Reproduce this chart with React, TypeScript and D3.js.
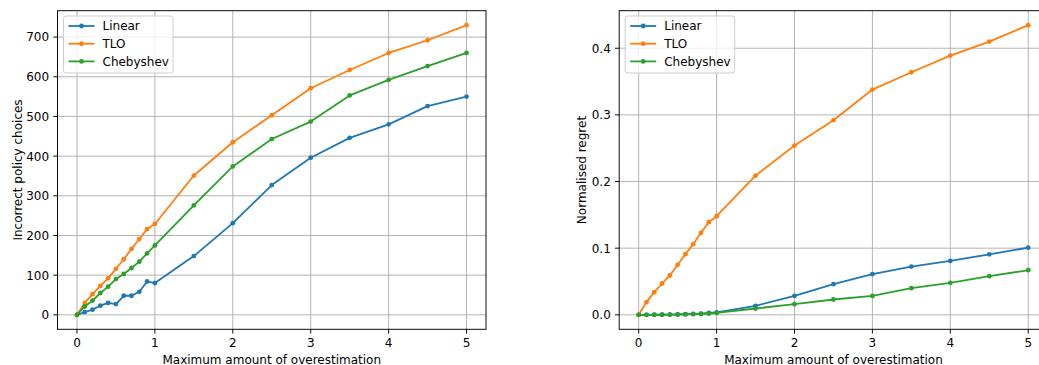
import * as d3 from "d3";

// ── Data ──────────────────────────────────────────────────────────────────────

const overestimation = [0, 0.1, 0.2, 0.3, 0.4, 0.5, 0.6, 0.7, 0.8, 0.9, 1.0, 1.5, 2, 2.5, 3, 3.5, 4, 4.5, 5];

const linearChoices = [0, 7, 13, 23, 30, 27, 48, 48, 58, 84, 80, 148, 231, 327, 396, 446, 480, 526, 550];
const tloChoices = [0, 30, 52, 73, 92, 116, 140, 166, 191, 216, 229, 351, 435, 503, 571, 617, 660, 692, 730];
const chebChoices = [0, 21, 36, 55, 71, 90, 103, 118, 134, 155, 175, 276, 374, 443, 487, 553, 592, 627, 660];

const linearRegret = [0, 0, 0.0001, 0.0002, 0.0004, 0.0006, 0.0009, 0.0013, 0.0019, 0.0027, 0.0038, 0.0135, 0.0284, 0.046, 0.061, 0.0724, 0.0808, 0.0908, 0.1008];
const tloRegret = [0, 0.019, 0.034, 0.047, 0.059, 0.075, 0.091, 0.106, 0.123, 0.139, 0.148, 0.209, 0.254, 0.292, 0.338, 0.364, 0.389, 0.41, 0.4346];
const chebRegret = [0, 0, 0, 0.0001, 0.0002, 0.0004, 0.0006, 0.0009, 0.0014, 0.002, 0.0028, 0.0095, 0.016, 0.023, 0.0284, 0.04, 0.048, 0.058, 0.067];

const seriesNames = ["Linear", "TLO", "Chebyshev"];
const seriesColors = ["#1f77b4", "#ff7f0e", "#2ca02c"];

const xTicks = [0, 1, 2, 3, 4, 5];
const choiceTicks = [0, 100, 200, 300, 400, 500, 600, 700];
const regretTicks = [0, 0.1, 0.2, 0.3, 0.4];

// ── Layout ────────────────────────────────────────────────────────────────────

const W = 1039;
const H = 365;
const FONT = "'DejaVu Sans', sans-serif";
const FS = 12;
const LW = 1.8;
const THIN = 0.96;
const TICK = 4.2;
const TOP = 10.7;
const BOTTOM = 329.3;
const AXIS_W = 428.5;

// matplotlib-style 5% margin
function padded([lo, hi]: [number, number]): [number, number] {
  const m = (hi - lo) * 0.05;
  return [lo - m, hi + m];
}

interface PanelProps {
  left: number;
  series: number[][];
  yTicks: number[];
  yFormat: (v: number) => string;
  yLabel: string;
  yLabelX: number;
}

function Panel({ left, series, yTicks, yFormat, yLabel, yLabelX }: PanelProps) {
  const right = left + AXIS_W;
  const x = d3
    .scaleLinear()
    .domain(padded(d3.extent(overestimation) as [number, number]))
    .range([left, right]);
  const all = series.flat();
  const y = d3
    .scaleLinear()
    .domain(padded([d3.min(all) as number, d3.max(all) as number]))
    .range([BOTTOM, TOP]);

  const line = d3
    .line<number>()
    .x((_d, i) => x(overestimation[i]))
    .y((d) => y(d));

  const clipId = `clip-${Math.round(left)}`;

  return (
    <g>
      <defs>
        <clipPath id={clipId}>
          <rect x={left} y={TOP} width={AXIS_W} height={BOTTOM - TOP} />
        </clipPath>
      </defs>

      {/* grid */}
      <g stroke="#b0b0b0" strokeWidth={THIN}>
        {xTicks.map((t) => (
          <line key={`gx${t}`} x1={x(t)} x2={x(t)} y1={TOP} y2={BOTTOM} />
        ))}
        {yTicks.map((t) => (
          <line key={`gy${t}`} x1={left} x2={right} y1={y(t)} y2={y(t)} />
        ))}
      </g>

      {/* series */}
      <g clipPath={`url(#${clipId})`}>
        {series.map((s, i) => (
          <g key={seriesNames[i]}>
            <path d={line(s) ?? ""} fill="none" stroke={seriesColors[i]} strokeWidth={LW} strokeLinejoin="round" strokeLinecap="square" />
            {s.map((v, j) => (
              <circle key={j} cx={x(overestimation[j])} cy={y(v)} r={2.4} fill={seriesColors[i]} />
            ))}
          </g>
        ))}
      </g>

      {/* frame */}
      <rect x={left} y={TOP} width={AXIS_W} height={BOTTOM - TOP} fill="none" stroke="#000" strokeWidth={THIN} />

      {/* x ticks */}
      {xTicks.map((t) => (
        <g key={`tx${t}`}>
          <line x1={x(t)} x2={x(t)} y1={BOTTOM} y2={BOTTOM + TICK} stroke="#000" strokeWidth={THIN} />
          <text x={x(t)} y={BOTTOM + 17.5} textAnchor="middle" fontFamily={FONT} fontSize={FS} fill="#000">
            {t}
          </text>
        </g>
      ))}

      {/* y ticks */}
      {yTicks.map((t) => (
        <g key={`ty${t}`}>
          <line x1={left - TICK} x2={left} y1={y(t)} y2={y(t)} stroke="#000" strokeWidth={THIN} />
          <text x={left - 2 * TICK} y={y(t) + 4.4} textAnchor="end" fontFamily={FONT} fontSize={FS} fill="#000">
            {yFormat(t)}
          </text>
        </g>
      ))}

      <text x={(left + right) / 2} y={363.5} textAnchor="middle" fontFamily={FONT} fontSize={FS} fill="#000">
        Maximum amount of overestimation
      </text>
      <text
        transform={`translate(${yLabelX}, ${(TOP + BOTTOM) / 2}) rotate(-90)`}
        textAnchor="middle"
        fontFamily={FONT}
        fontSize={FS}
        fill="#000"
      >
        {yLabel}
      </text>

      {/* legend */}
      <g transform={`translate(${left + 6}, 16)`}>
        <rect x={0} y={0} width={109.5} height={57} rx={2.5} fill="#fff" fillOpacity={0.8} stroke="#cccccc" strokeWidth={THIN} />
        {seriesNames.map((name, i) => (
          <g key={name} transform={`translate(0, ${10 + i * 17.7})`}>
            <line x1={5} x2={31} y1={0} y2={0} stroke={seriesColors[i]} strokeWidth={LW} />
            <circle cx={18} cy={0} r={2.4} fill={seriesColors[i]} />
            <text x={39} y={4.4} fontFamily={FONT} fontSize={FS} fill="#000">
              {name}
            </text>
          </g>
        ))}
      </g>
    </g>
  );
}

export default function App() {
  return (
    <svg
      width={W}
      height={H}
      style={{ position: "absolute", left: 0, top: 0, background: "#fff" }}
    >
      <Panel
        left={57.5}
        series={[linearChoices, tloChoices, chebChoices]}
        yTicks={choiceTicks}
        yFormat={(v) => String(v)}
        yLabel="Incorrect policy choices"
        yLabelX={21.5}
      />
      <Panel
        left={619.2}
        series={[linearRegret, tloRegret, chebRegret]}
        yTicks={regretTicks}
        yFormat={(v) => v.toFixed(1)}
        yLabel="Normalised regret"
        yLabelX={585.5}
      />
    </svg>
  );
}
